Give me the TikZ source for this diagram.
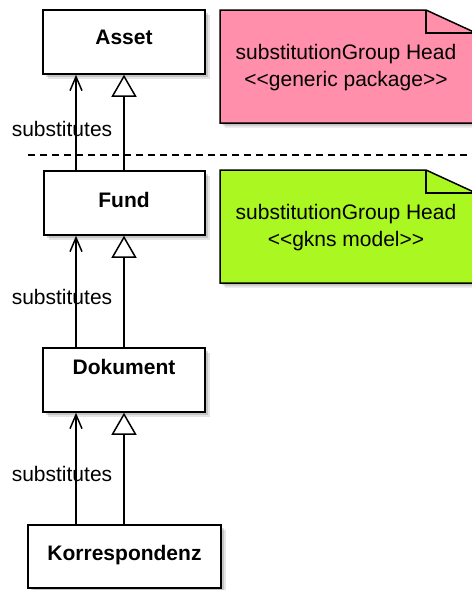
\documentclass[tikz,border=0pt]{standalone}
\usepackage{fontspec}
\setmainfont{Liberation Sans}
\usetikzlibrary{arrows.meta}
\definecolor{notepink}{HTML}{FF8FAB}
\definecolor{notegreen}{HTML}{AAF722}
% guillemet-free double angle brackets (keeps the tex-text mapping from joining them)
\newcommand{\dlt}{<\kern0pt<}
\newcommand{\dgt}{>\kern0pt>}

\begin{document}
\begin{tikzpicture}[x=1pt,y=-1pt,
  softshadow/.style={
    preaction={fill=black, opacity=0.10, transform canvas={shift={(4.5pt,-4.5pt)}}},
    preaction={fill=black, opacity=0.14, transform canvas={shift={(2.5pt,-2.5pt)}}}},
  classbox/.style={draw=black, fill=white, line width=1.5pt, inner sep=0pt,
    minimum height=64pt, softshadow},
  classname/.style={font=\fontsize{21}{26}\selectfont\bfseries, anchor=base, inner sep=0pt},
  notebody/.style={draw=black, line width=1.5pt, softshadow},
  notetext/.style={font=\fontsize{21}{27}\selectfont, anchor=base, inner sep=0pt},
  lbl/.style={font=\fontsize{21}{26}\selectfont, anchor=base, inner sep=0pt},
  conn/.style={draw=black, line width=1.5pt},
  subst/.style={conn, -{Straight Barb[length=14pt, width=12pt]}},
  generalize/.style={conn, -{Triangle[open, length=22pt, width=25pt, fill=white]}},
  separator/.style={draw=black, line width=1.3pt, dash pattern=on 7pt off 5pt}
]
\useasboundingbox (0,0) rectangle (472,590);
\clip (0,0) rectangle (472,590);

% columns of the two connector lines
\coordinate (lx) at (76,0);
\coordinate (rx) at (124,0);

% package separator
\coordinate (sepl) at (28,155);
\coordinate (sepr) at (472,155);
\draw[separator] (sepl) -- (sepr);

% notes
\path[notebody, fill=notepink] (220,10) -- (426,10) -- (476,33) -- (476,123) -- (220,123) -- cycle;
\draw[line width=1.5pt] (426,10) -- (426,33) -- (476,33);
\node[notetext] (pinkA) at (346,59) {substitutionGroup Head};
\node[notetext] (pinkB) at (346,86) {\dlt generic package\dgt};

\path[notebody, fill=notegreen] (220,170) -- (426,170) -- (476,193) -- (476,283) -- (220,283) -- cycle;
\draw[line width=1.5pt] (426,170) -- (426,193) -- (476,193);
\node[notetext] (greenA) at (346,219) {substitutionGroup Head};
\node[notetext] (greenB) at (346,246) {\dlt gkns model\dgt};

% classes
\node[classbox, minimum width=162pt] (asset) at (124,42) {};
\node[classname] (assetname) at (124,44) {Asset};

\node[classbox, minimum width=161pt] (fund) at (124.5,203) {};
\node[classname] (fundname) at (124,207.5) {Fund};

\node[classbox, minimum width=162pt] (dok) at (124,380) {};
\node[classname] (dokname) at (124,374) {Dokument};

\node[classbox, minimum width=193pt, minimum height=63pt] (korr) at (124.5,556.5) {};
\node[classname] (korrname) at (124.5,560) {Korrespondenz};

% substitution and generalization links
\draw[subst] (fund.north -| lx) -- (asset.south -| lx);
\draw[generalize] (fund.north -| rx) -- (asset.south -| rx);
\node[lbl] (s1) at (62,136) {substitutes};

\draw[subst] (dok.north -| lx) -- (fund.south -| lx);
\draw[generalize] (dok.north -| rx) -- (fund.south -| rx);
\node[lbl] (s2) at (62,304) {substitutes};

\draw[subst] (korr.north -| lx) -- (dok.south -| lx);
\draw[generalize] (korr.north -| rx) -- (dok.south -| rx);
\node[lbl] (s3) at (62,481) {substitutes};
\end{tikzpicture}
\end{document}
